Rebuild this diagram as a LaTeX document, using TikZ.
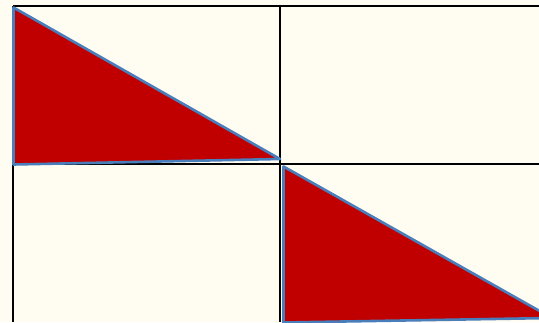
\documentclass[tikz,border=0pt]{standalone}
\usetikzlibrary{calc}
\definecolor{paper}{HTML}{FFFCF2}
\definecolor{wedgered}{HTML}{C00000}
\definecolor{wedgeblue}{HTML}{4A7EBB}

\begin{document}
\begin{tikzpicture}[x=1pt, y=-1pt,
      grid/.style={draw=black, line width=2.6pt},
      wedge/.style={fill=wedgered, draw=wedgeblue, line width=2.6pt, line join=round}]
    \fill[paper] (0,0) rectangle (539,322);
    \useasboundingbox (0,0) rectangle (539,322);
    % cells
    \coordinate (tl) at (13,6);
    \coordinate (tm) at (280,6);
    \coordinate (ml) at (13,164);
    \coordinate (bl) at (13,322);
    \coordinate (bm) at (280,322);
    \draw[grid] (tl) -- (539,6);
    \draw[grid] (ml) -- (539,164);
    \draw[grid] (tl) -- (bl);
    \draw[grid] (tm) -- (bm);
    % triangles
    \coordinate (a1) at (13.5,7.5);
    \coordinate (a2) at (13.5,164.5);
    \coordinate (a3) at (280,159);
    \draw[wedge] (a1) -- (a2) -- (a3) -- cycle;
    \coordinate (b1) at (283.5,166.5);
    \coordinate (b2) at (283.5,322.5);
    \coordinate (b3) at (552,318);
    \draw[wedge] (b1) -- (b2) -- (b3) -- cycle;
  \end{tikzpicture}
\end{document}
